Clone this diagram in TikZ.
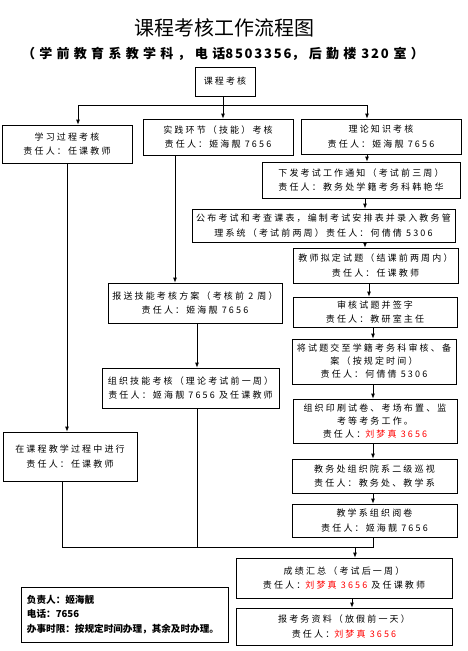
\documentclass[tikz,border=0pt]{standalone}
\usepackage{fontspec}
\usetikzlibrary{arrows.meta}
\newfontfamily\cjk{Noto Sans CJK SC}
\newfontfamily\boxfont[LetterSpace=24]{Noto Sans CJK SC}
\newfontfamily\subfont[LetterSpace=33]{Noto Sans CJK SC}
\newfontfamily\digfont[LetterSpace=14]{Noto Sans CJK SC}

\begin{document}
\begin{tikzpicture}[x=1pt,y=-1pt,line width=0.8pt,
      box/.style={draw,inner sep=2pt,align=center,
                  font=\boxfont\fontsize{9}{14.5}\selectfont},
      tall/.style={font=\boxfont\fontsize{9}{13}\selectfont},
      flow/.style={-{Latex[length=5pt,width=4pt]}}]
    \useasboundingbox (0,0) rectangle (468,651);

    % titles
    \node (title) at (224,28) {\cjk\fontsize{20}{24}\selectfont 课程考核工作流程图};
    \node (sub) at (223,54) {\bfseries\fontsize{13}{16}\selectfont
      {\subfont （学前教育系教学科，电话}{\digfont\bfseries 8503356}{\subfont\bfseries ，后勤楼}
      {\digfont\bfseries 320} {\subfont\bfseries 室）}};

    % top row
    \node[box,minimum width=60,minimum height=29] (kaohe) at (225,81.5) {课程考核};
    \node[box,minimum width=130,minimum height=38] (xuexi) at (67,144)
      {学习过程考核\\责任人：任课教师};
    \node[box,minimum width=150,minimum height=36] (shijian) at (218,137)
      {实践环节（技能）考核\\责任人：姬海靓 7656};
    \node[box,minimum width=160,minimum height=35] (lilun) at (381,136.5)
      {理论知识考核\\责任人：姬海靓 7656};

    % theory column
    \node[box,minimum width=198,minimum height=36] (xiafa) at (361,180)
      {下发考试工作通知（考试前三周）\\责任人：教务处学籍考务科韩艳华};
    \node[box,minimum width=263,minimum height=33] (gongbu) at (323.5,225.5)
      {公布考试和考查课表，编制考试安排表并录入教务管\\理系统（考试前两周）责任人：何倩倩 5306};
    \node[box,minimum width=165,minimum height=35] (niding) at (375.5,265.5)
      {教师拟定试题（结课前两周内）\\责任人：任课教师};
    \node[box,minimum width=164,minimum height=30] (shenhe) at (375,312)
      {审核试题并签字\\责任人：教研室主任};
    \node[box,tall,minimum width=164,minimum height=45] (jiaozhi) at (374,361.5)
      {将试题交至学籍考务科审核、备\\案（按规定时间）\\责任人：何倩倩 5306};
    \node[box,tall,minimum width=164,minimum height=44] (yinshua) at (375,421)
      {组织印刷试卷、考场布置、监\\考等考务工作。\\责任人：\textcolor{red}{刘梦真 3656}};
    \node[box,minimum width=165,minimum height=34] (xunshi) at (374.5,476)
      {教务处组织院系二级巡视\\责任人：教务处、教学系};
    \node[box,minimum width=165,minimum height=33] (yuejuan) at (374.5,520.5)
      {教学系组织阅卷\\责任人：姬海靓 7656};

    % skill column
    \node[box,minimum width=174,minimum height=40] (fangan) at (195,303)
      {报送技能考核方案（考核前 2 周）\\责任人：姬海靓 7656};
    \node[box,minimum width=177,minimum height=40] (zuzhi) at (190.5,388)
      {组织技能考核（理论考试前一周）\\责任人：姬海靓 7656 及任课教师};

    % process column
    \node[box,minimum width=134,minimum height=49] (jinxing) at (70,456.5)
      {在课程教学过程中进行\\责任人：任课教师};

    % bottom
    \node[box,minimum width=216,minimum height=40] (huizong) at (344,578)
      {成绩汇总（考试后一周）\\责任人：\textcolor{red}{刘梦真 3656} 及任课教师};
    \node[box,minimum width=216,minimum height=37] (baokao) at (344,626.5)
      {报考务资料（放假前一天）\\责任人：\textcolor{red}{刘梦真 3656}};
    \node[draw,inner sep=6pt,minimum width=207,minimum height=55,text width=195,align=left,
          font=\cjk\bfseries\fontsize{9.6}{14.5}\selectfont] (fuze) at (124.5,614.5)
      {负责人：姬海靓\\电话：7656\\办事时限：按规定时间办理，其余及时办理。};

    % connector columns
    \coordinate (split) at (223,105);
    \coordinate (hl) at (78,105);
    \coordinate (hr) at (367,105);
    \coordinate (rc1) at (365,0);
    \coordinate (rc2) at (369,0);
    \coordinate (rc3) at (373,0);
    \coordinate (mc1) at (175,0);
    \coordinate (mc2) at (197,0);
    \coordinate (lc) at (67,0);
    \coordinate (join) at (62,547);
    \coordinate (hz) at (355,547);
    \coordinate (bz) at (352,0);

    \draw (split |- kaohe.south) -- (split);
    \draw (hl) -- (hr);
    \draw[flow] (hl) -- (hl |- xuexi.north);
    \draw[flow] (split) -- (split |- shijian.north);
    \draw[flow] (hr) -- (hr |- lilun.north);

    \draw[flow] (lilun.south -| hr) -- (xiafa.north -| hr);
    \draw[flow] (xiafa.south -| rc1) -- (gongbu.north -| rc1);
    \draw[flow] (gongbu.south -| rc1) -- (niding.north -| rc1);
    \draw[flow] (niding.south -| rc2) -- (shenhe.north -| rc2);
    \draw[flow] (shenhe.south -| rc3) -- (jiaozhi.north -| rc3);
    \draw[flow] (jiaozhi.south -| rc3) -- (yinshua.north -| rc3);
    \draw[flow] (yinshua.south -| rc3) -- (xunshi.north -| rc3);
    \draw[flow] (xunshi.south -| rc3) -- (yuejuan.north -| rc3);

    \draw[flow] (shijian.south -| mc1) -- (fangan.north -| mc1);
    \draw[flow] (fangan.south -| mc2) -- (zuzhi.north -| mc2);
    \draw[flow] (xuexi.south -| lc) -- (jinxing.north -| lc);

    % merge into results
    \draw (yuejuan.south -| rc3) -- (rc3 |- join) -- (join);
    \draw (jinxing.south -| join) -- (join);
    \draw (zuzhi.south -| mc2) -- (mc2 |- join);
    \draw[flow] (hz) -- (hz |- huizong.north);
    \draw[flow] (huizong.south -| bz) -- (baokao.north -| bz);
  \end{tikzpicture}
\end{document}
